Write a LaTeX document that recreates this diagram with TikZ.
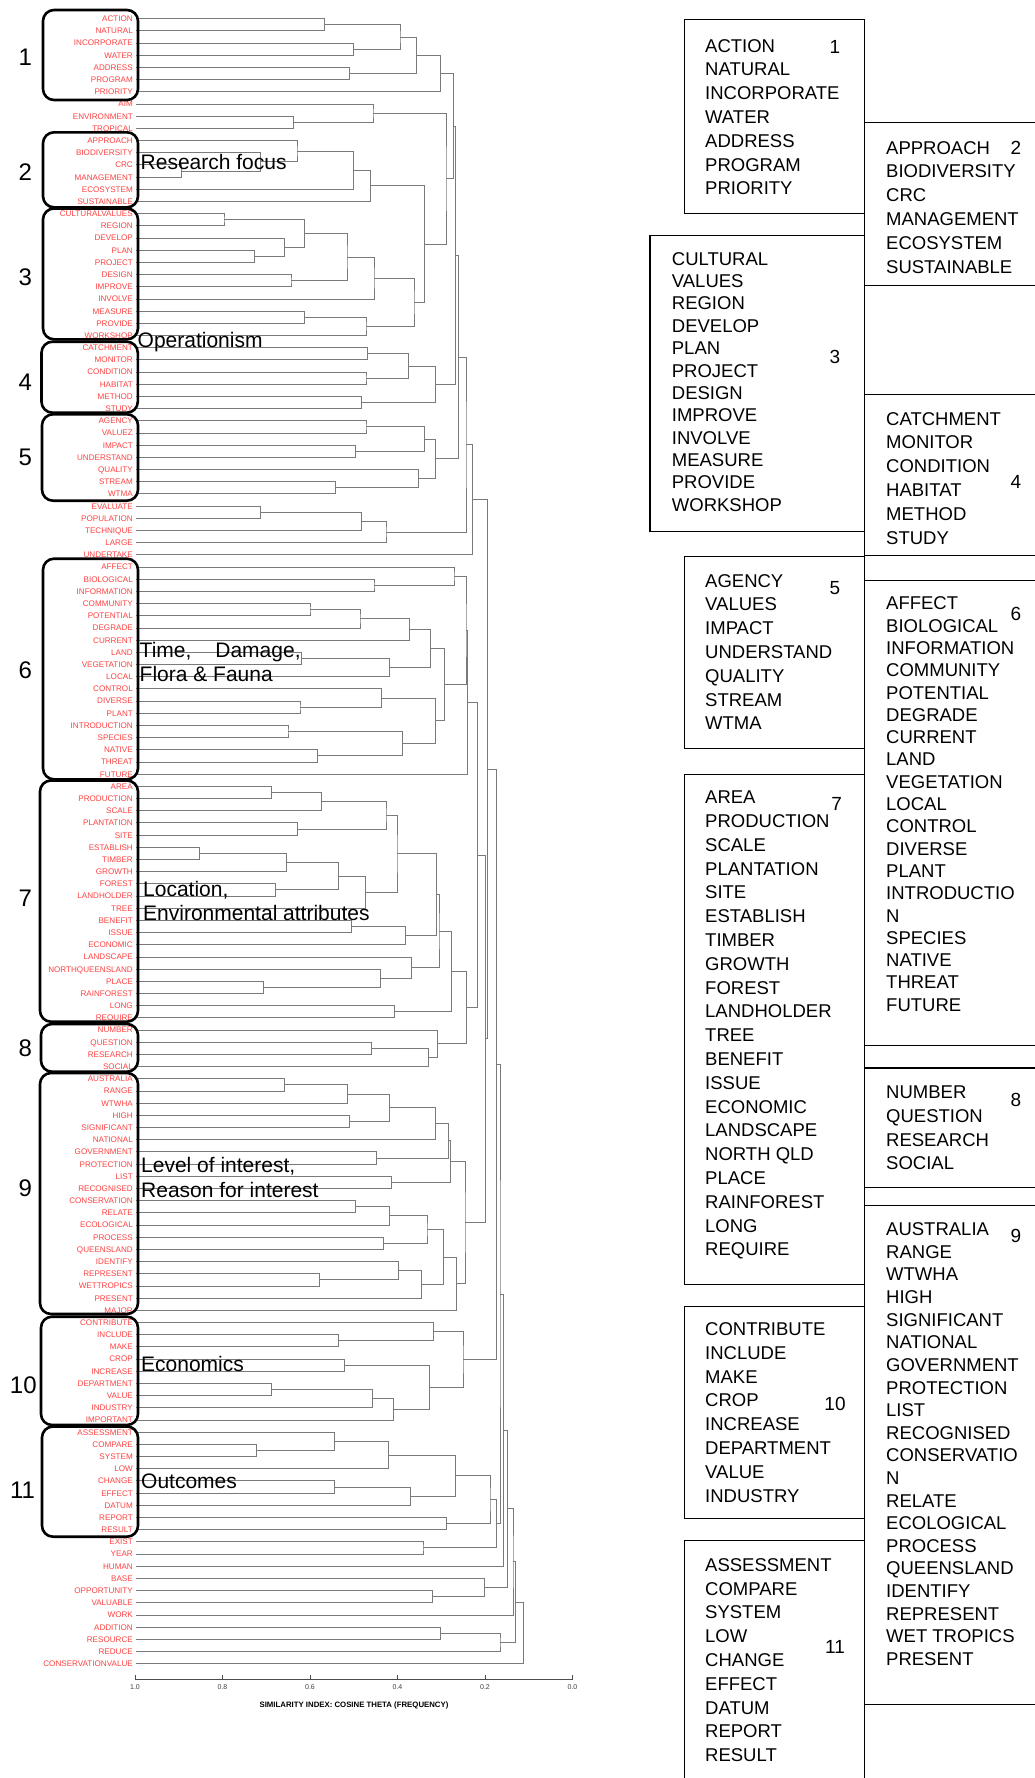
\documentclass[tikz,border=0pt]{standalone}
\usepackage{fontspec}
\setmainfont{Liberation Sans}
\usepackage{xcolor}
\usetikzlibrary{calc}

\definecolor{leafred}{RGB}{255,64,64}

% one bracket of the dendrogram: name, upper child, lower child, x of the join
\newcommand\mrg[4]{%
  \path let \p1=($(#2)!.5!(#3)$) in coordinate (#1) at (#4pt,\y1);
  \draw[branch] (#2) -| (#1) |- (#3);}

\begin{document}
\begin{tikzpicture}
[x=1pt, y=-1pt,
    leaf/.style={anchor=east, inner xsep=3pt, inner ysep=0pt, text height=5.8pt,
      text depth=0pt, text=leafred, font=\fontsize{8.1}{9}\selectfont},
    branch/.style={draw=black!52, line width=0.9pt},
    grpbox/.style={draw=black, line width=2.6pt, rounded corners=11pt},
    grpnum/.style={inner sep=0pt, text height=17pt, text depth=0pt,
      font=\fontsize{24}{28}\selectfont},
    theme/.style={anchor=west, inner sep=0pt, text height=15pt, text depth=0pt,
      font=\fontsize{21}{24}\selectfont},
    wbox/.style={draw=black, line width=1.2pt},
    word/.style={anchor=west, inner sep=0pt, text height=13.3pt, text depth=0pt,
      font=\fontsize{18.5}{22}\selectfont},
    boxnum/.style={inner sep=0pt, text height=13.6pt, text depth=0pt,
      font=\fontsize{19}{22}\selectfont},
    ticklab/.style={inner sep=0pt, text=black!75, font=\fontsize{7}{8}\selectfont},
    ]

    \fill[white] (0,0) rectangle (1034,1778);
    \useasboundingbox (0,0) rectangle (1034,1778);

    % leaves
    \foreach \w [count=\i from 0] in {ACTION,NATURAL,INCORPORATE,WATER,ADDRESS,PROGRAM,PRIORITY,%
AIM,ENVIRONMENT,TROPICAL,APPROACH,BIODIVERSITY,CRC,MANAGEMENT,ECOSYSTEM,SUSTAINABLE,%
CULTURALVALUES,REGION,DEVELOP,PLAN,PROJECT,DESIGN,IMPROVE,INVOLVE,MEASURE,PROVIDE,WORKSHOP,%
CATCHMENT,MONITOR,CONDITION,HABITAT,METHOD,STUDY,AGENCY,VALUEZ,IMPACT,UNDERSTAND,QUALITY,%
STREAM,WTMA,EVALUATE,POPULATION,TECHNIQUE,LARGE,UNDERTAKE,AFFECT,BIOLOGICAL,INFORMATION,%
COMMUNITY,POTENTIAL,DEGRADE,CURRENT,LAND,VEGETATION,LOCAL,CONTROL,DIVERSE,PLANT,%
INTRODUCTION,SPECIES,NATIVE,THREAT,FUTURE,AREA,PRODUCTION,SCALE,PLANTATION,SITE,ESTABLISH,%
TIMBER,GROWTH,FOREST,LANDHOLDER,TREE,BENEFIT,ISSUE,ECONOMIC,LANDSCAPE,NORTHQUEENSLAND,PLACE,%
RAINFOREST,LONG,REQUIRE,NUMBER,QUESTION,RESEARCH,SOCIAL,AUSTRALIA,RANGE,WTWHA,HIGH,%
SIGNIFICANT,NATIONAL,GOVERNMENT,PROTECTION,LIST,RECOGNISED,CONSERVATION,RELATE,ECOLOGICAL,%
PROCESS,QUEENSLAND,IDENTIFY,REPRESENT,WETTROPICS,PRESENT,MAJOR,CONTRIBUTE,INCLUDE,MAKE,CROP,%
INCREASE,DEPARTMENT,VALUE,INDUSTRY,IMPORTANT,ASSESSMENT,COMPARE,SYSTEM,LOW,CHANGE,EFFECT,%
DATUM,REPORT,RESULT,EXIST,YEAR,HUMAN,BASE,OPPORTUNITY,VALUABLE,WORK,ADDITION,RESOURCE,%
REDUCE,CONSERVATIONVALUE}
        \node[leaf] (w\i) at (136,{18.7+12.185*\i}) {\w};

    % joins
    \foreach \nm/\ca/\cb/\px in {m1/w0.east/w1.east/324.8,m2/w2.east/w3.east/353.7,m3/m1/m2/400,%
m4/w4.east/w5.east/349.6,m5/m3/m4/416.7,m6/m5/w6.east/440.4,m7/w8.east/w9.east/293.3,%
m8/w7.east/m7/373,m9/w12.east/w13.east/181.5,m10/w11.east/m9/260.4,m11/w10.east/m10/297,%
m12/m11/w14.east/353.7,m13/m12/w15.east/370.4,m14/w16.east/w17.east/224,%
m15/w19.east/w20.east/254.8,m16/w18.east/m15/284.4,m17/m14/m16/304.8,%
m18/w21.east/w22.east/291,m19/m17/m18/347,m20/m19/w23.east/374,m21/w24.east/w25.east/304.8,%
m22/m21/w26.east/366,m23/m20/m22/414,m24/m13/m23/424.3,m25/m8/m24/446,m26/m6/m25/453.3,%
m27/w27.east/w28.east/367.8,m28/w29.east/w30.east/366,m29/m27/m28/408.9,%
m30/w31.east/w32.east/361.9,m31/m29/m30/435.6,m32/m26/m31/455.5,m33/w33.east/w34.east/366,%
m34/w35.east/w36.east/355.6,m35/m33/m34/424.4,m36/w38.east/w39.east/335.6,%
m37/w37.east/m36/418.9,m38/m35/m37/435.6,m39/m32/m38/458.3,m40/w40.east/w41.east/260.4,%
m41/m40/w42.east/361.5,m42/m41/w43.east/386,m43/m39/m42/466,m44/m43/w44.east/472.7,%
m45/w46.east/w47.east/374,m46/w45.east/m45/454,m47/w48.east/w49.east/310,%
m48/m47/w50.east/360,m49/m48/w51.east/409.6,m50/w52.east/w53.east/301.9,%
m51/m50/w54.east/389.6,m52/m49/m51/430.4,m53/w56.east/w57.east/300,m54/w55.east/m53/381.9,%
m55/w58.east/w59.east/288,m56/w60.east/w61.east/317.8,m57/m55/m56/402.2,m58/m54/m57/435.6,%
m59/m52/m58/444.8,m60/m46/m59/466,m61/m60/w62.east/467.5,m62/w63.east/w64.east/271.1,%
m63/m62/w65.east/321.5,m64/w66.east/w67.east/297.4,m65/m63/m64/386,%
m66/w68.east/w69.east/199.6,m67/m66/w70.east/286.7,m68/w71.east/w72.east/275.6,%
m69/m67/m68/338.1,m70/m69/w73.east/365.6,m71/m65/m70/397,m72/w74.east/w75.east/351.1,%
m73/m72/w76.east/405.2,m74/m71/m73/436.7,m75/w79.east/w80.east/263.7,m76/w78.east/m75/380.7,%
m77/w77.east/m76/411.5,m78/m74/m77/439,m79/w81.east/w82.east/394.8,m80/m78/m79/451.7,%
m81/w84.east/w85.east/371.1,m82/m81/w86.east/428.1,m83/w83.east/m82/437.8,%
m84/m80/m83/466.7,m85/m61/m84/477.5,m86/w87.east/w88.east/284.4,m87/m86/w89.east/347.8,%
m88/w90.east/w91.east/349.6,m89/m87/m88/389.3,m90/m89/w92.east/435.6,%
m91/w93.east/w94.east/376.7,m92/m90/m91/448.9,m93/w95.east/w96.east/391.1,%
m94/m92/m93/450.2,m95/w97.east/w98.east/355.6,m96/m95/w99.east/389.3,%
m97/w100.east/w101.east/383.7,m98/m96/m97/427,m99/w103.east/w104.east/319.3,%
m100/w102.east/m99/398.9,m101/m100/w105.east/421.9,m102/m98/m101/443.3,%
m103/m102/w106.east/456.7,m104/m94/m103/465,m105/m85/m104/485.2,m106/m44/m105/487.4,%
m107/w108.east/w109.east/338.1,m108/w107.east/m107/433.3,m109/w110.east/w111.east/344.8,%
m110/w112.east/w113.east/271.1,m111/m110/w114.east/372.2,m112/m111/w115.east/393.3,%
m113/m109/m112/429.6,m114/m108/m113/463,m115/m106/m114/496.3,%
m116/w117.east/w118.east/256.3,m117/w116.east/m116/334.4,m118/m117/w119.east/388.9,%
m119/w120.east/w121.east/334.4,m120/m119/w122.east/410.4,m121/m118/m120/455.6,%
m122/w123.east/w124.east/446.3,m123/m121/m122/490,m124/w125.east/w126.east/423,%
m125/m123/m124/496.3,m126/m115/m125/500,m127/m126/w127.east/503.7,%
m128/w129.east/w130.east/432.6,m129/w128.east/m128/484.4,m130/m127/m129/507.4,%
m131/m130/w131.east/513,m132/w132.east/w133.east/440.7,m133/m132/w134.east/500,%
m134/m131/m133/515.6,m135/m134/w135.east/523.3}
        {\mrg{\nm}{\ca}{\cb}{\px}}

    % axis
    \draw[branch, draw=black!70] (135,1679) -- (573,1679);
    \foreach \lab [count=\k from 0] in {1.0,0.8,0.6,0.4,0.2,0.0} {
        \draw[branch, draw=black!70] ({135+87.5*\k},1679) -- ++(0,-4.5);
        \node[ticklab] (tk\k) at ({135+87.5*\k},1687.5) {\lab};
    }
    \node[inner sep=0pt, font=\bfseries\fontsize{7.8}{9}\selectfont] (xlab) at (354,1705.5)
        {SIMILARITY INDEX: COSINE THETA (FREQUENCY)};

    % groups
    \draw[grpbox] (43,10) rectangle (138,100);
    \draw[grpbox] (43,132.3) rectangle (138,207.3);
    \draw[grpbox] (43,208.5) rectangle (138,339.3);
    \draw[grpbox] (41.5,341.7) rectangle (137.8,412.7);
    \draw[grpbox] (42,414.3) rectangle (138,500.7);
    \draw[grpbox] (43,558.7) rectangle (138,779.3);
    \draw[grpbox] (40,780.5) rectangle (138,1021.7);
    \draw[grpbox] (41,1024) rectangle (138,1071.7);
    \draw[grpbox] (40,1073) rectangle (138,1314);
    \draw[grpbox] (41,1316.7) rectangle (138,1425);
    \draw[grpbox] (42,1426.5) rectangle (138,1536.7);

    \node[grpnum] (g1) at (25.2,57) {1};
    \node[grpnum] (g2) at (25.2,171.7) {2};
    \node[grpnum] (g3) at (25.2,276.7) {3};
    \node[grpnum] (g4) at (25.2,381.7) {4};
    \node[grpnum] (g5) at (25.2,456.7) {5};
    \node[grpnum] (g6) at (25.2,670) {6};
    \node[grpnum] (g7) at (25.2,898.3) {7};
    \node[grpnum] (g8) at (25.2,1048.3) {8};
    \node[grpnum] (g9) at (25.2,1188.3) {9};
    \node[grpnum] (g10) at (23.3,1385) {10};
    \node[grpnum] (g11) at (22.5,1490) {11};

    \node[theme] (t2) at (140.5,162.3) {Research focus};
    \node[theme] (t4) at (137.5,340) {Operationism};
    \node[theme] (t6a) at (139.5,650) {Time,\hspace{24pt}Damage,};
    \node[theme] (t6b) at (139.5,674.3) {Flora \& Fauna};
    \node[theme] (t7a) at (143,889) {Location,};
    \node[theme] (t7b) at (143,912.7) {Environmental attributes};
    \node[theme] (t9a) at (141,1164.5) {Level of interest,};
    \node[theme] (t9b) at (141,1190) {Reason for interest};
    \node[theme] (t10) at (141,1364) {Economics};
    \node[theme] (t11) at (141,1480.7) {Outcomes};

    % word lists, left column
    \draw[wbox] (684.3,19.3) rectangle (864.7,213.2);
    \foreach \w [count=\k from 0] in {ACTION,NATURAL,INCORPORATE,WATER,ADDRESS,PROGRAM,PRIORITY}
        \node[word] (a1-\k) at (705,{45.4+23.8*\k}) {\w};
    \node[boxnum] (n1) at (835,46.5) {1};

    \draw[wbox] (650,235.8) rectangle (864.7,531.8);
    \foreach \w [count=\k from 0] in {CULTURAL,VALUES,REGION,DEVELOP,PLAN,PROJECT,DESIGN,IMPROVE,%
INVOLVE,MEASURE,PROVIDE,WORKSHOP}
        \node[word] (a3-\k) at (671.7,{258.5+22.37*\k}) {\w};
    \node[boxnum] (n3) at (835,357.1) {3};

    \draw[wbox] (684.3,556.7) rectangle (864.7,748.3);
    \foreach \w [count=\k from 0] in {AGENCY,VALUES,IMPACT,UNDERSTAND,QUALITY,STREAM,WTMA}
        \node[word] (a5-\k) at (705,{580.5+23.8*\k}) {\w};
    \node[boxnum] (n5) at (835,587.3) {5};

    \draw[wbox] (684.3,774.4) rectangle (864.7,1284.6);
    \foreach \w [count=\k from 0] in {AREA,PRODUCTION,SCALE,PLANTATION,SITE,ESTABLISH,TIMBER,%
GROWTH,FOREST,LANDHOLDER,TREE,BENEFIT,ISSUE,ECONOMIC,LANDSCAPE,NORTH QLD,PLACE,RAINFOREST,%
LONG,REQUIRE}
        \node[word] (a7-\k) at (705,{797.1+23.8*\k}) {\w};
    \node[boxnum] (n7) at (836.7,803.9) {7};

    \draw[wbox] (684.3,1306.1) rectangle (864.7,1518.2);
    \foreach \w [count=\k from 0] in {CONTRIBUTE,INCLUDE,MAKE,CROP,INCREASE,DEPARTMENT,VALUE,INDUSTRY}
        \node[word] (a10-\k) at (705,{1328.8+23.8*\k}) {\w};
    \node[boxnum] (n10) at (835,1403.6) {10};

    \draw[wbox] (684.3,1781) |- (864.7,1540.8);
    \foreach \w [count=\k from 0] in {ASSESSMENT,COMPARE,SYSTEM,LOW,CHANGE,EFFECT,DATUM,REPORT,RESULT}
        \node[word] (a11-\k) at (705,{1564.6+23.8*\k}) {\w};
    \node[boxnum] (n11) at (835,1646.3) {11};

    % word lists, right column
    \draw[wbox] (864.7,19.3) -- (864.7,1781);
    \foreach \yy in {122.4,285.7,394.6,555.6,580.5,1045.4,1068,1187.1,1205.2,1704.1}
        \draw[wbox] (864.7,\yy) -- (1036,\yy);

    \foreach \w [count=\k from 0] in {APPROACH,BIODIVERSITY,CRC,MANAGEMENT,ECOSYSTEM,SUSTAINABLE}
        \node[word] (a2-\k) at (886,{147.4+23.8*\k}) {\w};
    \node[boxnum] (n2) at (1016,147.4) {2};

    \foreach \w [count=\k from 0] in {CATCHMENT,MONITOR,CONDITION,HABITAT,METHOD,STUDY}
        \node[word] (a4-\k) at (886,{418.4+23.8*\k}) {\w};
    \node[boxnum] (n4) at (1016,481.9) {4};

    \foreach \w [count=\k from 0] in {AFFECT,BIOLOGICAL,INFORMATION,COMMUNITY,POTENTIAL,DEGRADE,%
CURRENT,LAND,VEGETATION,LOCAL,CONTROL,DIVERSE,PLANT,INTRODUCTIO,N,SPECIES,NATIVE,THREAT,FUTURE}
        \node[word] (a6-\k) at (886,{603.2+22.3*\k}) {\w};
    \node[boxnum] (n6) at (1016,613.4) {6};

    \foreach \w [count=\k from 0] in {NUMBER,QUESTION,RESEARCH,SOCIAL}
        \node[word] (a8-\k) at (886,{1091.8+23.8*\k}) {\w};
    \node[boxnum] (n8) at (1016,1099.8) {8};

    \foreach \w [count=\k from 0] in {AUSTRALIA,RANGE,WTWHA,HIGH,SIGNIFICANT,NATIONAL,GOVERNMENT,%
PROTECTION,LIST,RECOGNISED,CONSERVATIO,N,RELATE,ECOLOGICAL,PROCESS,QUEENSLAND,IDENTIFY,%
REPRESENT,WET TROPICS,PRESENT}
        \node[word] (a9-\k) at (886,{1229+22.62*\k}) {\w};
    \node[boxnum] (n9) at (1016,1235.8) {9};
\end{tikzpicture}
\end{document}
